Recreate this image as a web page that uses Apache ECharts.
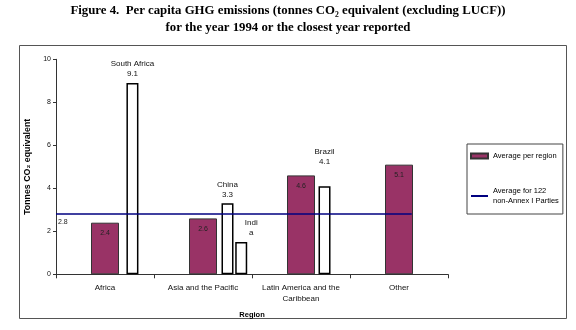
<!DOCTYPE html>
<html>
<head>
<meta charset="utf-8">
<script src="https://cdn.jsdelivr.net/npm/echarts@6/dist/echarts.min.js"></script>
<style>
html,body{margin:0;padding:0;background:#fff;}
#c{width:576px;height:330px;}
</style>
</head>
<body>
<div id="c"></div>
<script>
// ---- data ----
var categories = ['Africa', 'Asia and the Pacific', 'Latin America and the\nCaribbean', 'Other'];
var regionAverages = [2.4, 2.6, 4.6, 5.1];
var countryNames = ['South Africa', 'China', 'India', 'Brazil'];
var countryPositions = [0.78, 1.75, 1.89, 2.74];   // position along the region axis (region index units)
var countryValues = [8.9, 3.3, 1.5, 4.1];
var countryLabels = ['South Africa\n9.1', 'China\n3.3', 'Indi\na', 'Brazil\n4.1'];
var overallAverage = 2.8;
var overallAverageSpan = [0, 3.63];
var yTicks = [0, 2, 4, 6, 8, 10];

var purple = '#993366';
var font = 'Liberation Sans, Arial, sans-serif';

var labelOffsets = {'Brazil': [0, -15], 'India': [10, 0]};

var countryData = countryNames.map(function (n, i) {
  var d = { name: n, value: [countryPositions[i], countryValues[i]], labelText: countryLabels[i] };
  if (labelOffsets[n]) d.label = { offset: labelOffsets[n] };
  return d;
});

var chart = echarts.init(document.getElementById('c'), null, { renderer: 'canvas' });
chart.setOption({
  animation: false,
  backgroundColor: '#fff',
  title: {
    text: 'Figure 4.  Per capita GHG emissions (tonnes CO\u2082 equivalent (excluding LUCF))\nfor the year 1994 or the closest year reported',
    left: 'center',
    top: 0,
    padding: [2, 5, 2, 5],
    textStyle: {
      fontFamily: 'Liberation Serif, Times New Roman, serif',
      fontWeight: 'bold',
      fontSize: 12.8,
      lineHeight: 17,
      color: '#000',
      align: 'center'
    }
  },
  graphic: [{
    type: 'rect',
    shape: { x: 19.5, y: 45.5, width: 547, height: 273 },
    style: { fill: 'none', stroke: '#555', lineWidth: 1 },
    z: -1
  }],
  legend: {
    left: 467,
    top: 144,
    orient: 'vertical',
    padding: [7, 4, 8, 3],
    itemGap: 25,
    itemWidth: 17,
    itemHeight: 5,
    borderColor: '#444',
    borderWidth: 1,
    textStyle: { fontFamily: font, fontSize: 7.5, color: '#000', lineHeight: 10 },
    data: [
      { name: 'Average per region', icon: 'rect' },
      { name: 'Average for 122\nnon-Annex I Parties', itemStyle: { opacity: 0 } }
    ]
  },
  grid: { left: 56, right: 128, top: 59.3, bottom: 55.7, containLabel: false },
  xAxis: [{
    type: 'category',
    data: categories,
    name: 'Region',
    nameLocation: 'middle',
    nameGap: 37,
    nameTextStyle: { fontFamily: font, fontSize: 7.5, fontWeight: 'bold', color: '#000' },
    axisLine: { lineStyle: { color: '#333', width: 1 } },
    axisTick: { show: true, length: 4, lineStyle: { color: '#333' } },
    axisLabel: { fontFamily: font, fontSize: 8, color: '#111', margin: 8, lineHeight: 11, interval: 0 }
  }, {
    type: 'value',
    min: 0,
    max: 4,
    show: false
  }],
  yAxis: {
    type: 'value',
    min: 0,
    max: 10,
    interval: 2,
    name: 'Tonnes CO\u2082 equivalent',
    nameLocation: 'middle',
    nameGap: 17,
    nameTextStyle: { fontFamily: font, fontSize: 8.8, fontWeight: 'bold', color: '#000' },
    splitLine: { show: false },
    axisLine: { show: true, lineStyle: { color: '#333', width: 1 } },
    axisTick: { show: true, length: 3, lineStyle: { color: '#333' } },
    axisLabel: {
      fontFamily: font, fontSize: 7, color: '#111', margin: 5,
      formatter: function (v) { return yTicks.indexOf(v) >= 0 ? String(v) : ''; }
    }
  },
  series: [{
    name: 'Average per region',
    type: 'bar',
    data: regionAverages,
    barWidth: 28,
    itemStyle: { color: purple, borderColor: '#333', borderWidth: 1 },
    label: {
      show: true, position: 'insideTop', distance: 7,
      fontFamily: font, fontSize: 7, color: '#222'
    },
    z: 2
  }, {
    name: 'Countries',
    type: 'bar',
    xAxisIndex: 1,
    data: countryData,
    barWidth: 12,
    itemStyle: { color: '#fff', borderColor: '#000', borderWidth: 1.5 },
    label: {
      show: true, position: 'top', distance: 4,
      fontFamily: font, fontSize: 8, color: '#111', lineHeight: 10,
      formatter: function (p) { return p.data.labelText; }
    },
    z: 2
  }, {
    name: 'Average for 122\nnon-Annex I Parties',
    type: 'line',
    xAxisIndex: 1,
    symbol: 'none',
    data: [],
    itemStyle: { color: '#000080' },
    lineStyle: { color: '#000080', width: 1.5 },
    markLine: {
      silent: true,
      symbol: ['none', 'none'],
      lineStyle: { color: '#000080', width: 1.5, type: 'solid' },
      label: {
        show: true, position: 'insideStartBottom', distance: [2, 4],
        fontFamily: font, fontSize: 7, color: '#222',
        formatter: function () { return String(overallAverage); }
      },
      data: [[
        { coord: [overallAverageSpan[0], overallAverage] },
        { coord: [overallAverageSpan[1], overallAverage] }
      ]],
      z: 3
    },
    z: 3
  }]
});
</script>
</body>
</html>
